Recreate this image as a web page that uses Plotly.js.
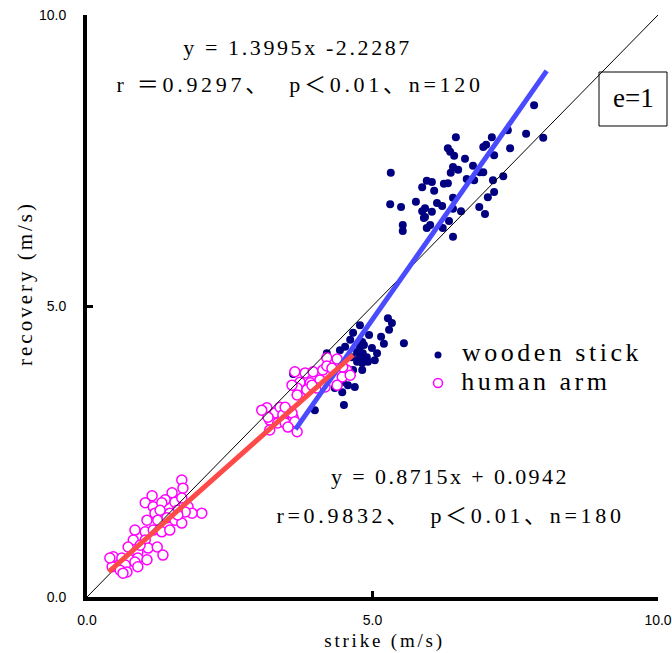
<!DOCTYPE html>
<html>
<head>
<meta charset="utf-8">
<script src="https://cdn.plot.ly/plotly-3.0.1.min.js"></script>
<style>
html,body{margin:0;padding:0;background:#fff;}
#chart{width:672px;height:653px;}
#chart g.annotation[data-index="0"] text{letter-spacing:2.6px;}
#chart g.annotation[data-index="1"] text{letter-spacing:3.7px;}
#chart g.annotation[data-index="2"] text{letter-spacing:2.4px;}
#chart g.annotation[data-index="3"] text{letter-spacing:3.7px;}
#chart g.annotation[data-index="5"] text{letter-spacing:3.5px;}
#chart g.annotation[data-index="6"] text{letter-spacing:3.5px;}
#chart g.annotation[data-index="7"] text{letter-spacing:2.8px;}
#chart g.annotation[data-index="8"] text{letter-spacing:3px;}
</style>
</head>
<body>
<div id="chart"></div>
<script>
// wooden stick (filled navy dots)
const woodX = [7.83,6.46,7.69,7.99,7.37,7.09,6.94,6.99,7.41,7.13,6.32,6.36,6.43,6.62,6.41,6.37,6.50,6.76,6.94,6.88,7.29,6.78,6.65,7.11,5.32,5.95,6.04,5.87,6.25,6.32,6.08,7.13,7.02,5.31,5.50,5.76,6.41,6.13,6.22,5.92,5.87,6.04,5.92,6.41,6.55,6.87,6.97,5.90,6.01,5.95,6.34,6.23,5.53,5.53,6.41,
  5.27,5.34,5.29,4.78,4.66,4.94,5.15,5.55,4.82,4.85,4.78,5.20,4.52,4.43,5.08,4.20,4.73,4.83,4.78,4.90,4.83,4.73,4.82,4.92,4.66,4.82,4.48,4.57,4.69,4.34,4.47,4.50,3.99,3.61,4.61,4.99,4.64,5.04];
const woodY = [8.45,7.90,7.96,7.89,8.02,7.90,7.73,7.77,7.71,7.59,7.71,7.65,7.58,7.53,7.39,7.29,7.34,7.41,7.30,7.30,7.23,7.16,7.18,7.16,7.29,7.15,7.13,7.04,7.10,7.11,6.98,6.96,6.87,6.75,6.70,6.79,6.86,6.77,6.72,6.68,6.63,6.62,6.53,6.67,6.63,6.70,6.58,6.51,6.39,6.34,6.46,6.34,6.39,6.29,6.19,
  4.79,4.71,4.59,4.67,4.54,4.50,4.47,4.36,4.38,4.33,4.30,4.35,4.30,4.24,4.19,4.19,4.21,4.19,4.12,4.12,4.07,4.04,4.02,4.04,3.90,3.90,3.69,3.64,3.61,3.59,3.52,3.30,3.21,3.83,4.42,4.28,4.12,4.07];
// human arm (open magenta circles)
const armX = [4.20,4.38,3.64,3.82,3.96,4.13,4.20,4.55,4.47,3.73,3.91,4.08,3.68,3.85,4.03,4.17,4.38,4.48,4.61,4.29,3.68,3.15,3.29,3.38,3.43,3.56,3.61,3.20,3.34,3.47,3.61,3.47,3.17,3.59,3.64,3.52,3.68,3.06,3.20,3.59,3.94,
  1.66,1.68,1.14,1.49,1.37,1.02,1.16,1.31,1.54,1.66,1.77,2.01,1.84,1.72,1.58,1.45,1.19,1.05,1.24,1.40,1.54,0.84,1.02,1.16,1.31,1.45,1.66,0.81,1.02,0.72,0.89,1.07,1.23,1.33,0.46,0.61,0.75,0.89,1.05,0.44,0.67,0.84,0.89,0.58,0.70,0.40,0.63,1.28,1.59,0.93];
const armY = [4.11,4.09,3.87,3.85,3.87,3.90,3.97,3.90,3.78,3.69,3.68,3.73,3.59,3.56,3.59,3.61,3.64,3.95,3.81,3.93,3.47,3.25,3.16,3.26,3.13,3.18,3.08,3.04,2.99,2.99,2.96,3.26,3.09,3.16,3.01,2.92,2.84,3.21,2.87,3.64,3.64,
  2.01,1.87,1.74,1.79,1.67,1.62,1.55,1.62,1.63,1.70,1.55,1.44,1.44,1.46,1.49,1.44,1.44,1.32,1.32,1.36,1.32,1.15,1.12,1.15,1.12,1.15,1.27,0.98,0.98,0.86,0.77,0.84,0.86,0.72,0.69,0.67,0.64,0.67,0.64,0.52,0.55,0.60,0.52,0.46,0.43,0.67,0.41,1.49,1.41,0.89];
// reference line e=1 and fitted lines (endpoints)
const identX = [0, 10];
const identY = [0, 10];
const woodFitX = [3.65, 8.05];
const woodFitY = [2.88, 9.04];
const armFitX = [0.38, 4.66];
const armFitY = [0.43, 4.16];
const tickVals = [0, 5, 10];
const tickText = ["0.0", "5.0", "10.0"];

const serif = "Liberation Serif, Noto Sans CJK JP, serif";
const traces = [
  {x: woodX, y: woodY, type: 'scatter', mode: 'markers', name: 'wooden stick', showlegend: false,
   marker: {color: '#000080', size: 8, line: {width: 0}}},
  {x: armX, y: armY, type: 'scatter', mode: 'markers', name: 'human arm', showlegend: false,
   marker: {color: '#ffffff', size: 10, symbol: 'circle', line: {color: '#ff00ff', width: 1.5}}},
  {x: identX, y: identY, type: 'scatter', mode: 'lines', showlegend: false, hoverinfo: 'skip',
   line: {color: '#000000', width: 1}},
  {x: woodFitX, y: woodFitY, type: 'scatter', mode: 'lines', showlegend: false,
   line: {color: '#4a4aff', width: 5}},
  {x: armFitX, y: armFitY, type: 'scatter', mode: 'lines', showlegend: false,
   line: {color: '#ff4a4a', width: 5}}
];
const axisCommon = {
  range: [0, 10], tickvals: tickVals, ticktext: tickText, showgrid: false, zeroline: false,
  showline: true, linecolor: '#000', linewidth: 4, ticks: 'inside', ticklen: 6, tickwidth: 3, tickcolor: '#000',
  tickfont: {family: 'Liberation Sans Narrow, Liberation Sans, Arial', size: 14, color: '#000'}
};
const px = v => (v - 87) / 571;
const py = v => (597 - v) / 582;
function note(xp, yp, text, size, angle) {
  return {xref: 'paper', yref: 'paper', x: px(xp), y: py(yp), text: text, showarrow: false,
    xanchor: 'center', yanchor: 'middle', textangle: angle || 0,
    font: {family: serif, size: size, color: '#000'}};
}
const layout = {
  width: 672, height: 653,
  margin: {l: 87, r: 14, t: 15, b: 56},
  paper_bgcolor: '#fff', plot_bgcolor: '#fff',
  showlegend: false,
  xaxis: Object.assign({}, axisCommon, {ticklabelstandoff: 7}),
  yaxis: Object.assign({}, axisCommon, {ticklabelstandoff: 14}),
  annotations: [
    note(297, 47, 'y = 1.3995x -2.2287', 22),
    note(300, 84, 'r ＝0.9297、  p＜0.01、n=120', 22),
    note(450, 476, 'y = 0.8715x + 0.0942', 22),
    note(450, 515, 'r=0.9832、  p＜0.01、n=180', 22),
    note(633, 98, 'e=1', 27),
    note(552, 353, 'wooden stick', 26),
    note(536, 381, 'human arm', 26),
    note(384, 641, 'strike (m/s)', 19),
    note(25, 284, 'recovery (m/s)', 21, -90)
  ],
  shapes: [
    {type: 'rect', xref: 'paper', yref: 'paper', x0: px(599), x1: px(667), y0: py(126), y1: py(72),
     line: {color: '#000', width: 1}, fillcolor: 'rgba(0,0,0,0)'},
    {type: 'circle', xref: 'paper', yref: 'paper', xsizemode: 'pixel', ysizemode: 'pixel',
     xanchor: px(438), yanchor: py(355), x0: -3.5, x1: 3.5, y0: -3.5, y1: 3.5,
     fillcolor: '#000080', line: {color: '#000080', width: 0}},
    {type: 'circle', xref: 'paper', yref: 'paper', xsizemode: 'pixel', ysizemode: 'pixel',
     xanchor: px(438), yanchor: py(383), x0: -4.5, x1: 4.5, y0: -4.5, y1: 4.5,
     fillcolor: '#fff', line: {color: '#ff00ff', width: 1.5}}
  ]
};
Plotly.newPlot('chart', traces, layout, {displayModeBar: false, staticPlot: true});
</script>
</body>
</html>
